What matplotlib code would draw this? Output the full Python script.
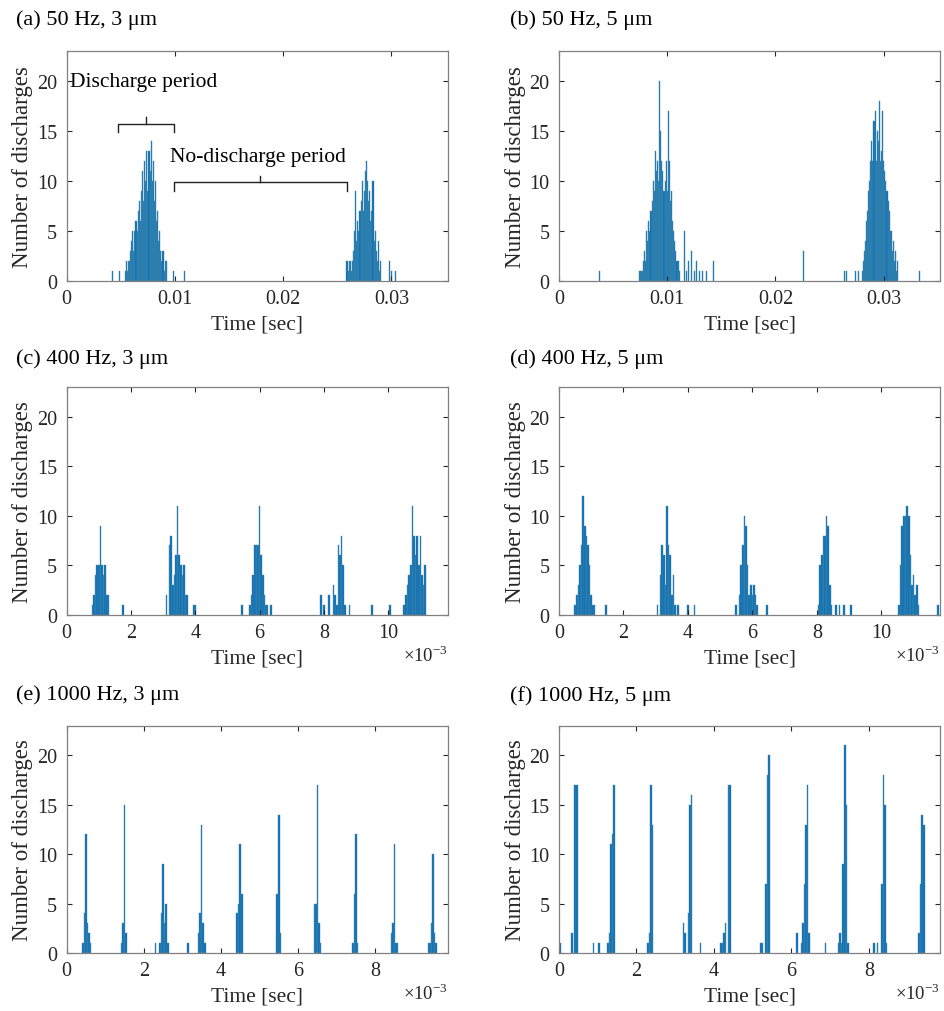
import matplotlib
matplotlib.use("Agg")
import matplotlib.pyplot as plt
from matplotlib.ticker import FixedLocator, FuncFormatter

plt.rcParams['font.family'] = ['Liberation Serif', 'DejaVu Serif']
plt.rcParams['mathtext.fontset'] = 'custom'
plt.rcParams['mathtext.rm'] = 'Liberation Serif'

# ---------------- data (bin centres, counts) ----------------
# (a) 50 Hz, 3 um  -- times in seconds, bin width 0.1 ms
a_t = [0.0042, 0.0049,
       0.0054, 0.0055, 0.0056, 0.0057, 0.0058, 0.0059, 0.0060, 0.0061, 0.0062, 0.0063,
       0.0064, 0.0065, 0.0066, 0.0067, 0.0068, 0.0069, 0.0070, 0.0071, 0.0072, 0.0073,
       0.0074, 0.0075, 0.0076, 0.0077, 0.0078, 0.0079, 0.0080, 0.0081, 0.0082, 0.0083,
       0.0084, 0.0085, 0.0086, 0.0087, 0.0088, 0.0089, 0.0090, 0.0091, 0.0092, 0.0099, 0.0109,
       0.0259, 0.0260, 0.0261, 0.0262, 0.0263, 0.0264, 0.0265, 0.0266, 0.0267, 0.0268,
       0.0269, 0.0270, 0.0271, 0.0272, 0.0273, 0.0274, 0.0275, 0.0276, 0.0277, 0.0278,
       0.0279, 0.0280, 0.0281, 0.0282, 0.0283, 0.0284, 0.0285, 0.0286, 0.0287, 0.0288,
       0.0289, 0.0290, 0.0298, 0.0300, 0.0304]
a_n = [1, 1,
       1, 2, 1, 2, 2, 3, 4, 5, 3, 5,
       6, 5, 7, 8, 6, 9, 11, 8, 12, 10,
       13, 9, 13, 11, 14, 10, 12, 8, 10, 6,
       7, 4, 5, 3, 2, 3, 1, 2, 2, 1, 1,
       2, 1, 2, 2, 1, 2, 3, 5, 9, 4,
       6, 5, 7, 8, 10, 7, 9, 11, 12, 10,
       8, 9, 6, 7, 10, 4, 5, 3, 2, 4,
       1, 2, 2, 1, 1]

# (b) 50 Hz, 5 um
b_t = [0.0037,
       0.0074, 0.0075, 0.0076, 0.0077, 0.0078, 0.0079, 0.0080, 0.0081, 0.0082, 0.0083,
       0.0084, 0.0085, 0.0086, 0.0087, 0.0088, 0.0089, 0.0090, 0.0091, 0.0092, 0.0093,
       0.0094, 0.0095, 0.0096, 0.0097, 0.0098, 0.0099, 0.0100, 0.0101, 0.0102, 0.0103,
       0.0104, 0.0105, 0.0106, 0.0107, 0.0108, 0.0109, 0.0110, 0.0111,
       0.0116, 0.0118, 0.0120, 0.0122, 0.0125, 0.0127, 0.0130, 0.0133, 0.0136, 0.0143,
       0.0226,
       0.0264, 0.0266, 0.0274, 0.0277, 0.0280,
       0.0281, 0.0282, 0.0283, 0.0284, 0.0285, 0.0286, 0.0287, 0.0288, 0.0289, 0.0290,
       0.0291, 0.0292, 0.0293, 0.0294, 0.0295, 0.0296, 0.0297, 0.0298, 0.0299, 0.0300,
       0.0301, 0.0302, 0.0303, 0.0304, 0.0305, 0.0306, 0.0307, 0.0308, 0.0309, 0.0310,
       0.0311, 0.0312, 0.0313, 0.0333]
b_n = [1,
       1, 1, 1, 1, 2, 3, 2, 5, 4, 6,
       5, 7, 8, 10, 9, 13, 11, 12, 10, 20,
       15, 12, 11, 9, 10, 12, 9, 17, 12, 8,
       9, 6, 5, 4, 3, 2, 2, 1,
       5, 1, 2, 3, 1, 2, 1, 1, 1, 2,
       3,
       1, 1, 1, 1, 1,
       2, 3, 4, 6, 7, 9, 10, 12, 14, 12,
       16, 17, 12, 15, 14, 18, 12, 13, 17, 12,
       11, 10, 9, 8, 7, 5, 5, 3, 4, 2,
       3, 1, 2, 1]

# (c) 400 Hz, 3 um -- times in ms, bin width 0.05 ms
c_t = [0.80, 0.85, 0.90, 0.95, 1.00, 1.05, 1.10, 1.15, 1.20, 1.25, 1.30, 1.75,
       3.10, 3.20, 3.25, 3.30, 3.35, 3.40, 3.45, 3.50, 3.55, 3.60, 3.65, 3.70, 3.75, 3.95, 4.00,
       5.45, 5.70, 5.75, 5.80, 5.85, 5.90, 5.95, 6.00, 6.05, 6.10, 6.15, 6.20, 6.25, 6.35,
       7.90, 8.00, 8.15, 8.30, 8.35, 8.40, 8.45, 8.50, 8.55, 8.60, 8.65, 8.80, 9.50, 10.05,
       10.50, 10.55, 10.60, 10.65, 10.70, 10.75, 10.80, 10.85, 10.90, 10.95, 11.00, 11.05,
       11.10, 11.15]
c_n = [1, 2, 4, 5, 5, 9, 5, 4, 5, 2, 2, 1,
       2, 7, 8, 3, 4, 6, 11, 6, 5, 4, 5, 2, 2, 1, 1,
       1, 1, 2, 4, 7, 7, 7, 11, 6, 4, 2, 1, 1, 1,
       2, 1, 2, 3, 2, 1, 7, 6, 8, 5, 1, 1, 1, 1,
       1, 2, 3, 4, 5, 11, 8, 6, 8, 5, 8, 4,
       3, 5]

# (d) 400 Hz, 5 um -- times in ms
d_t = [0.50, 0.55, 0.60, 0.65, 0.70, 0.75, 0.80, 0.85, 0.90, 0.95, 1.00, 1.05, 1.10, 1.45,
       3.05, 3.15, 3.20, 3.25, 3.30, 3.35, 3.40, 3.45, 3.50, 3.55, 3.60, 3.70, 4.00, 4.20,
       5.50, 5.60, 5.65, 5.70, 5.75, 5.80, 5.85, 5.90, 5.95, 6.00, 6.05, 6.10, 6.15, 6.45,
       8.05, 8.10, 8.15, 8.20, 8.25, 8.30, 8.35, 8.40, 8.45, 8.60, 8.70, 8.85, 9.05,
       10.55, 10.60, 10.65, 10.70, 10.75, 10.80, 10.85, 10.90, 10.95, 11.00, 11.05, 11.10,
       11.15, 11.75]
d_n = [1, 2, 3, 5, 7, 12, 9, 8, 7, 5, 2, 1, 1, 1,
       1, 4, 7, 6, 3, 11, 7, 6, 2, 4, 1, 1, 1, 1,
       1, 2, 5, 7, 10, 9, 5, 2, 3, 2, 3, 2, 1, 1,
       1, 5, 6, 8, 8, 10, 9, 3, 1, 1, 1, 1, 1,
       1, 5, 9, 10, 10, 11, 10, 6, 3, 4, 2, 3,
       1, 1]

# (e) 1000 Hz, 3 um -- times in ms, bin width 0.04 ms
e_t = [0.42, 0.46, 0.50, 0.54, 0.58, 0.62,
       1.42, 1.46, 1.50, 1.54,
       2.30, 2.42, 2.46, 2.50, 2.54, 2.58, 2.62, 3.14,
       3.42, 3.46, 3.50, 3.54, 3.58,
       4.42, 4.46, 4.50, 4.54,
       5.46, 5.50, 5.54,
       6.42, 6.46, 6.50, 6.54, 6.58,
       7.42, 7.46, 7.50, 7.54,
       8.42, 8.46, 8.50, 8.54, 8.58,
       9.38, 9.42, 9.46, 9.50, 9.54, 9.58]
e_n = [1, 4, 12, 3, 2, 1,
       1, 3, 15, 2,
       1, 1, 4, 9, 3, 5, 1, 1,
       2, 4, 13, 3, 1,
       4, 5, 11, 6,
       6, 14, 2,
       5, 5, 17, 3, 1,
       1, 6, 12, 1,
       2, 3, 11, 1, 1,
       1, 1, 3, 10, 2, 1]

# (f) 1000 Hz, 5 um -- times in ms
f_t = [0.02, 0.34, 0.42, 0.46, 0.89, 1.04,
       1.26, 1.30, 1.34, 1.38, 1.42,
       2.30, 2.34, 2.38, 2.42,
       3.22, 3.26, 3.34, 3.38, 3.42, 3.66,
       4.18, 4.22, 4.26, 4.30, 4.38, 4.42,
       5.22, 5.26, 5.34, 5.38, 5.42,
       6.14, 6.26, 6.30, 6.34, 6.38, 6.42, 6.46,
       6.88, 7.22, 7.26, 7.30, 7.34, 7.38, 7.42, 7.46,
       8.14, 8.22, 8.34, 8.38, 8.42, 8.46,
       9.30, 9.34, 9.38, 9.42]
f_n = [1, 2, 17, 17, 1, 1,
       1, 2, 11, 12, 17,
       1, 2, 17, 13,
       3, 2, 4, 15, 16, 1,
       1, 1, 2, 3, 17, 17,
       1, 1, 7, 18, 20,
       2, 1, 3, 7, 13, 17, 2,
       1, 1, 2, 1, 9, 21, 15, 1,
       1, 1, 7, 18, 15, 1,
       2, 7, 14, 13]

titles = ["(a) 50 Hz, 3 \u03bcm", "(b) 50 Hz, 5 \u03bcm",
          "(c) 400 Hz, 3 \u03bcm", "(d) 400 Hz, 5 \u03bcm",
          "(e) 1000 Hz, 3 \u03bcm", "(f) 1000 Hz, 5 \u03bcm"]
y_ticks = [0, 5, 10, 15, 20]
x_ticks_50 = [0, 0.01, 0.02, 0.03]
x_ticks_400 = [0, 2, 4, 6, 8, 10]
x_ticks_1000 = [0, 2, 4, 6, 8]

# ---------------- style ----------------
FACE = '#0a6cb8'
EDGE = '#4b8fa8'
AXC = '#262626'
FS_TICK = 14.5
FS_LAB = 15.5

W, H = 945, 1012
fig = plt.figure(figsize=(W / 100, H / 100), dpi=100)

col_left = [66.7, 559.0]
col_w = 381.0
rows = [(52.0, 282.0), (388.3, 615.7), (726.7, 954.0)]

panels = [
    (a_t, a_n, 1.0, 1e-4, x_ticks_50, 0.0352, False),
    (b_t, b_n, 1.0, 1e-4, x_ticks_50, 0.0352, False),
    (c_t, c_n, 1e-3, 5e-5, x_ticks_400, 0.01185, True),
    (d_t, d_n, 1e-3, 5e-5, x_ticks_400, 0.01182, True),
    (e_t, e_n, 1e-3, 4e-5, x_ticks_1000, 0.00988, True),
    (f_t, f_n, 1e-3, 4e-5, x_ticks_1000, 0.00984, True),
]
title_pos = [(16, 20), (510, 20), (16, 359), (510, 359), (16, 695), (510, 696)]

axes = []
for i, (tt, nn, scale, bw, xt, xmax, sci) in enumerate(panels):
    r, c = divmod(i, 2)
    top, bot = rows[r]
    ax = fig.add_axes([col_left[c] / W, 1 - bot / H, col_w / W, (bot - top) / H])
    axes.append(ax)
    xs = [v * scale for v in tt]
    ax.bar(xs, nn, width=bw, color=FACE, edgecolor=EDGE, linewidth=0.3, align='center')
    ax.set_xlim(0, xmax)
    ax.set_ylim(0, 23)
    ax.yaxis.set_major_locator(FixedLocator(y_ticks))
    if sci:
        ax.xaxis.set_major_locator(FixedLocator([v * 1e-3 for v in xt]))
        ax.xaxis.set_major_formatter(FuncFormatter(lambda v, p: "%d" % round(v * 1e3)))
        ax.text(1.0, -0.175, r"$\times10^{-3}$", transform=ax.transAxes,
                ha='right', va='center', fontsize=FS_TICK - 1, color=AXC)
    else:
        ax.xaxis.set_major_locator(FixedLocator(xt))
        ax.xaxis.set_major_formatter(FuncFormatter(lambda v, p: "0" if v == 0 else "%.2f" % v))
    ax.tick_params(direction='in', length=3.5, width=0.8, colors=AXC,
                   labelsize=FS_TICK, top=True, right=True, labelcolor=AXC)
    ax.tick_params(axis='x', pad=6)
    ax.tick_params(axis='y', pad=7)
    for s in ax.spines.values():
        s.set_color('#808080')
        s.set_linewidth(0.9)
    ax.set_xlabel("Time [sec]", fontsize=FS_LAB, color=AXC)
    ax.xaxis.set_label_coords(0.5, -43 / (bot - top))
    ax.xaxis.label.set_va('center')
    ax.set_ylabel("Number of discharges", fontsize=16.5, color=AXC)
    ax.yaxis.set_label_coords(-43.7 / col_w, 0.5)
    ax.yaxis.label.set_va('center')
    tx, ty = title_pos[i]
    fig.text(tx / W, 1 - ty / H, titles[i], ha='left', va='center', fontsize=16, color='black')

# annotations in panel (a)
ax = axes[0]
ax.text(0.0003, 19.9, "Discharge period", ha='left', va='center', fontsize=FS_LAB, color='black')
ax.text(0.00957, 12.47, "No-discharge period", ha='left', va='center', fontsize=FS_LAB, color='black')
br1 = (0.00478, 0.00987, 15.7, 14.9, 16.4)
br2 = (0.00994, 0.02586, 9.92, 9.05, 10.5)
for x0, x1, yl, ye, yt in [br1, br2]:
    ax.plot([x0, x0, x1, x1], [ye, yl, yl, ye], color='#222222', lw=1.0)
    xm = (x0 + x1) / 2
    ax.plot([xm, xm], [yl, yt], color='#222222', lw=1.0)

fig.savefig("out.png", dpi=100)
